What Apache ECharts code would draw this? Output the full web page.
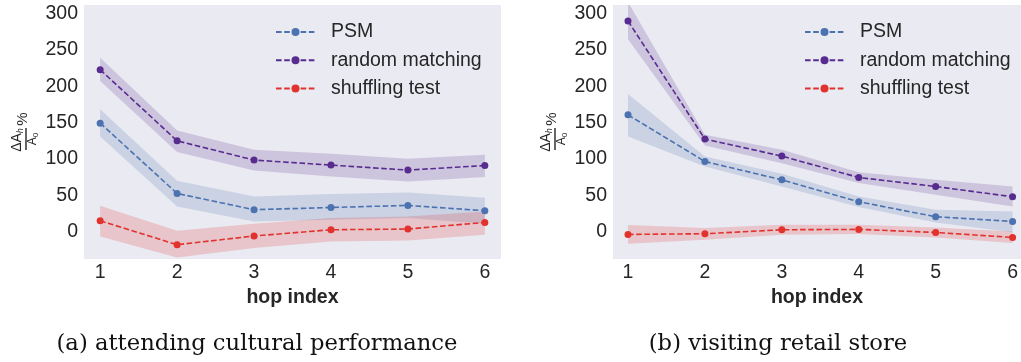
<!DOCTYPE html>
<html><head><meta charset="utf-8">
<script src="https://cdn.jsdelivr.net/npm/echarts@6/dist/echarts.min.js"></script>
<style>html,body{margin:0;padding:0;background:#fff}#c{width:1021px;height:362px}</style>
</head><body><div id="c"></div>
<script>
const hops = [1, 2, 3, 4, 5, 6];
const seriesNames = ['PSM', 'random matching', 'shuffling test'];
const yTicks = [0, 50, 100, 150, 200, 250, 300];
const captions = ['(a) attending cultural performance', '(b) visiting retail store'];
const xAxisTitle = 'hop index';

// panel (a) attending cultural performance
const aPsm     = [149.2, 52.3, 29.9, 33.0, 35.8, 28.5];
const aPsmHi   = [168.4, 69.8, 48.2, 51.5, 53.7, 46.4];
const aPsmLo   = [130.7, 34.4, 13.8, 16.1, 18.4, 10.6];
const aRand    = [222.9, 124.8, 98.3, 91.4, 84.5, 90.8];
const aRandHi  = [239.4, 139.0, 112.4, 106.9, 100.0, 105.5];
const aRandLo  = [207.4, 109.3, 83.9, 75.7, 68.8, 74.9];
const aShuf    = [14.7, -18.3, -6.3, 2.3, 3.3, 12.4];
const aShufHi  = [35.4, 1.0, 10.6, 18.4, 20.6, 27.5];
const aShufLo  = [-6.9, -35.8, -22.8, -13.8, -12.4, -4.5];

// panel (b) visiting retail store
const bPsm     = [160.6, 96.3, 71.1, 40.9, 20.2, 13.8];
const bPsmHi   = [189.5, 103.2, 79.4, 48.2, 29.9, 27.5];
const bPsmLo   = [130.7, 89.4, 61.9, 33.6, 12.4, -1.0];
const bRand    = [290.0, 127.2, 103.8, 74.3, 61.9, 47.8];
const bRandHi  = [316.0, 133.1, 112.4, 81.7, 71.1, 61.9];
const bRandLo  = [264.8, 118.3, 94.1, 66.6, 50.5, 34.4];
const bShuf    = [-4.1, -3.2, 2.3, 2.8, -1.4, -8.3];
const bShufHi  = [8.8, 4.7, 9.2, 9.2, 5.5, 0.0];
const bShufLo  = [-16.9, -11.4, -4.5, -3.6, -8.3, -16.0];

const colors = ['#4c72b0', '#582c8f', '#e2322d'];
const bandColors = ['rgba(76,114,176,0.2)', 'rgba(88,44,143,0.2)', 'rgba(226,50,45,0.2)'];
const txt = '#262626';
const sans = 'Liberation Sans';

// right panel is cut off by the page edge, so its visible x range ends before 6.21
const panels = [
  {left: 84, width: 417, xMin: 0.79, xMax: 6.21, means: [aPsm, aRand, aShuf], hi: [aPsmHi, aRandHi, aShufHi], lo: [aPsmLo, aRandLo, aShufLo]},
  {left: 613, width: 408, xMin: 0.805, xMax: 6.108, means: [bPsm, bRand, bShuf], hi: [bPsmHi, bRandHi, bShufHi], lo: [bPsmLo, bRandLo, bShufLo]}
];

function bandRenderer(hi, lo, fill) {
  return function (params, api) {
    const pts = [];
    for (let i = 0; i < hops.length; i++) pts.push(api.coord([hops[i], hi[i]]));
    for (let i = hops.length - 1; i >= 0; i--) pts.push(api.coord([hops[i], lo[i]]));
    return {type: 'polygon', shape: {points: pts}, style: {fill: fill}};
  };
}

const grids = [], xAxes = [], yAxes = [], series = [], legends = [];
panels.forEach((p, pi) => {
  grids.push({left: p.left, top: 5, width: p.width, height: 254, backgroundColor: '#eaeaf2', show: true, borderWidth: 0});
  xAxes.push({
    type: 'value', gridIndex: pi, min: p.xMin, max: p.xMax,
    axisLine: {show: false}, axisTick: {show: false}, splitLine: {show: false},
    axisLabel: {customValues: hops, color: txt, fontFamily: sans, fontSize: 19.5, margin: 4},
    name: xAxisTitle, nameLocation: 'middle', nameGap: 27,
    nameTextStyle: {color: txt, fontFamily: sans, fontSize: 19.5, fontWeight: 'bold'}
  });
  yAxes.push({
    type: 'value', gridIndex: pi, min: -38, max: 312,
    axisLine: {show: false}, axisTick: {show: false}, splitLine: {show: false},
    axisLabel: {customValues: yTicks, color: txt, fontFamily: sans, fontSize: 19.5, margin: 6}
  });
  for (let k = 0; k < 3; k++) {
    series.push({
      type: 'custom', name: 'band' + pi + '_' + k, xAxisIndex: pi, yAxisIndex: pi, clip: true,
      data: [[hops[0], p.means[k][0]]], renderItem: bandRenderer(p.hi[k], p.lo[k], bandColors[k]),
      silent: true, z: 1
    });
  }
  for (let k = 0; k < 3; k++) {
    series.push({
      type: 'line', name: seriesNames[k], xAxisIndex: pi, yAxisIndex: pi,
      data: hops.map((h, i) => [h, p.means[k][i]]),
      symbol: 'circle', symbolSize: 7, color: colors[k],
      itemStyle: {color: colors[k]},
      lineStyle: {color: colors[k], width: 1.6, type: [5.6, 2.6]}, z: 3
    });
  }
  legends.push({
    data: seriesNames, orient: 'vertical', left: p.left + 186, top: 17,
    itemWidth: 39, itemHeight: 10, itemGap: 8.2,
    textStyle: {color: txt, fontFamily: sans, fontSize: 19.5, lineHeight: 20, padding: [0, 0, 0, 11]},
    selectedMode: false
  });
});

function yLabel(cx) {
  return {
    type: 'group', x: cx, y: 139, rotation: Math.PI / 2,
    children: [
      {type: 'text', x: -1, y: -9, style: {text: 'ΔA{s|h}', fill: txt, font: '14px "Liberation Sans"', align: 'center', verticalAlign: 'middle',
        rich: {s: {fontSize: 9, fontStyle: 'italic', fontFamily: sans, fill: txt, padding: [6, 0, 0, 0]}}}},
      {type: 'line', shape: {x1: -11, y1: 0, x2: 11, y2: 0}, style: {stroke: txt, lineWidth: 1.4}},
      {type: 'text', x: 0, y: 7, style: {text: 'A{s|0}', fill: txt, font: '12px "Liberation Sans"', align: 'center', verticalAlign: 'middle',
        rich: {s: {fontSize: 8, fontFamily: sans, fill: txt, padding: [5, 0, 0, 0]}}}},
      {type: 'text', x: 20, y: -3, style: {text: '%', fill: txt, font: '15px "Liberation Sans"', align: 'center', verticalAlign: 'middle'}}
    ]
  };
}

const graphics = [
  yLabel(26), yLabel(555),
  {type: 'text', x: 257, y: 344, style: {text: captions[0], fill: '#111', font: '22.7px "DejaVu Serif"', align: 'center', verticalAlign: 'middle'}},
  {type: 'text', x: 778, y: 344, style: {text: captions[1], fill: '#111', font: '22.7px "DejaVu Serif"', align: 'center', verticalAlign: 'middle'}}
];

const chart = echarts.init(document.getElementById('c'), null, {renderer: 'canvas'});
chart.setOption({
  animation: false, backgroundColor: '#ffffff',
  grid: grids, xAxis: xAxes, yAxis: yAxes, series: series, legend: legends, graphic: graphics
});
</script></body></html>
